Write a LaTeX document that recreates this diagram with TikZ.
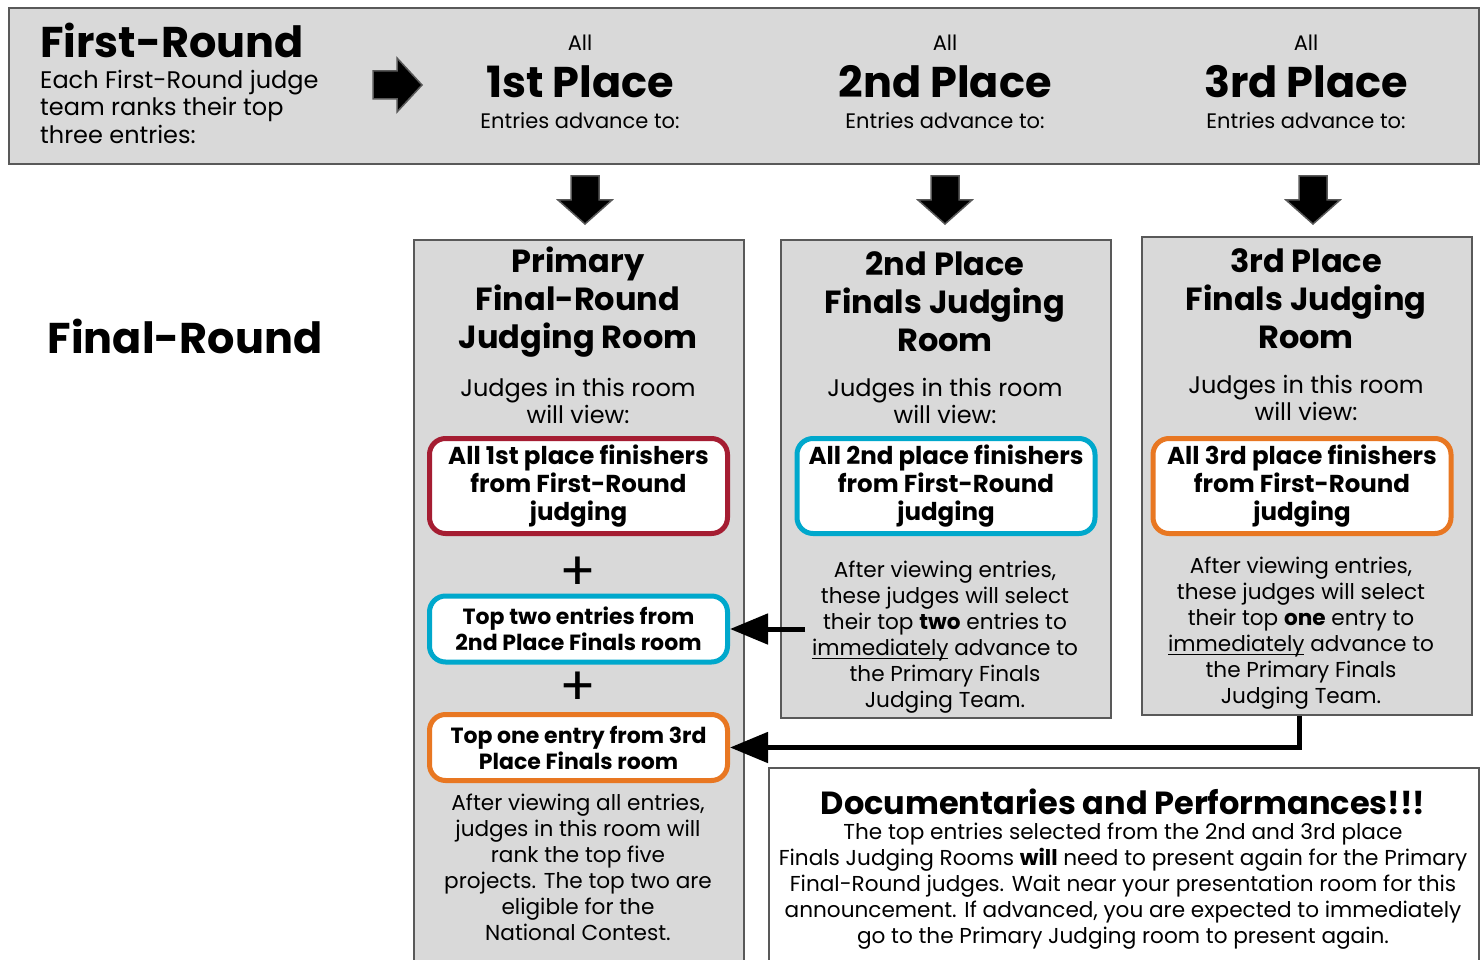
\documentclass[tikz,border=0pt]{standalone}
\usepackage{fontspec}
\setmainfont{Poppins}
\usetikzlibrary{arrows.meta,positioning}

% underline close to the baseline
\newcommand{\uword}[1]{\leavevmode\setbox0\hbox{#1}\rlap{\rule[-4pt]{\wd0}{1.4pt}}\box0\relax}

\definecolor{panelgray}{HTML}{D9D9D9}
\definecolor{edgegray}{HTML}{595959}
\definecolor{firstred}{HTML}{A51D32}
\definecolor{secondcyan}{HTML}{00A8CC}
\definecolor{thirdorange}{HTML}{E87722}

\tikzset{
  panel/.style={draw=edgegray, line width=2pt, fill=panelgray, anchor=north west, inner sep=0pt},
  headline/.style={font=\fontsize{43}{48}\selectfont\bfseries},
  roomtitle/.style={align=center, font=\fontsize{32}{38}\selectfont\bfseries},
  bodytext/.style={align=center, font=\fontsize{21.6}{26}\selectfont},
  viewtext/.style={align=center, font=\fontsize{24}{27}\selectfont},
  smalltext/.style={font=\fontsize{21}{24}\selectfont},
  entrybox/.style={draw=#1, line width=5pt, fill=white, rounded corners=16pt, minimum width=298pt, align=center, inner sep=0pt},
  bigentry/.style={font=\fontsize{24.5}{28}\selectfont\bfseries, minimum height=95pt},
  smallentry/.style={font=\fontsize{22}{26}\selectfont\bfseries, minimum height=66pt},
  plus/.style={font=\fontsize{54}{54}\selectfont},
  blockarrow/.style={fill=black, draw=edgegray, line width=1.5pt},
  conn/.style={line width=5pt, -{Triangle[length=38pt,width=30pt]}},
}

\begin{document}
\begin{tikzpicture}[x=1pt, y=-1pt]
\useasboundingbox (0,0) rectangle (1484,960);

% first round panel
\node[panel, minimum width=1470pt, minimum height=156pt] (firstpanel) at (8,7) {};
\node[headline, anchor=base west, inner sep=0pt] (firsthead) at (40,58) {First-Round};
\node[align=left, anchor=north west, inner sep=0pt, font=\fontsize{24}{27.5}\selectfont] (firstdesc) at (40,70) {Each First-Round judge\\team ranks their top\\three entries:};
\filldraw[blockarrow] (373,71) -- (397,71) -- (397,58) -- (422,85) -- (397,112) -- (397,99) -- (373,99) -- cycle;

\node[smalltext] (allone) at (580,43) {All};
\node[headline] (placeone) at (580,82) {1st Place};
\node[smalltext] (advone) at (580,121) {Entries advance to:};
\node[smalltext] (alltwo) at (945,43) {All};
\node[headline] (placetwo) at (945,82) {2nd Place};
\node[smalltext] (advtwo) at (945,121) {Entries advance to:};
\node[smalltext] (allthree) at (1306,43) {All};
\node[headline] (placethree) at (1306,82) {3rd Place};
\node[smalltext] (advthree) at (1306,121) {Entries advance to:};

% down arrows
\filldraw[blockarrow, shift={(585,176)}] (-14,0) -- (14,0) -- (14,24) -- (27,24) -- (0,48) -- (-27,24) -- (-14,24) -- cycle;
\filldraw[blockarrow, shift={(945,176)}] (-14,0) -- (14,0) -- (14,24) -- (27,24) -- (0,48) -- (-27,24) -- (-14,24) -- cycle;
\filldraw[blockarrow, shift={(1313,176)}] (-14,0) -- (14,0) -- (14,24) -- (27,24) -- (0,48) -- (-27,24) -- (-14,24) -- cycle;

\node[headline] (finalhead) at (185,336) {Final-Round};

% the three rooms
\node[panel, minimum width=330pt, minimum height=740pt] (roomprimary) at (413,239) {};
\node[panel, minimum width=330pt, minimum height=478pt] (roomsecond) at (780,239) {};
\node[panel, minimum width=330pt, minimum height=478pt] (roomthird) at (1141,236) {};

% primary room
\node[roomtitle] (titleprimary) at (578,302) {Primary\\Final-Round\\Judging Room};
\node[viewtext] (viewprimary) at (578,401) {Judges in this room\\will view:};
\node[entrybox=firstred, bigentry] (allfirst) at (578.5,486) {All 1st place finishers\\from First-Round\\judging};
\node[plus] (plusone) at (578,574) {+};
\node[entrybox=secondcyan, smallentry] (toptwo) at (578.5,629) {Top two entries from\\2nd Place Finals room};
\node[plus] (plustwo) at (578,689) {+};
\node[entrybox=thirdorange, smallentry] (topone) at (578.5,747.5) {Top one entry from 3rd\\Place Finals room};
\node[bodytext] (rankprimary) at (578,867) {After viewing all entries,\\judges in this room will\\rank the top five\\projects. The top two are\\eligible for the\\National Contest.};

% second place room
\node[roomtitle] (titlesecond) at (945,302) {2nd Place\\Finals Judging\\Room};
\node[viewtext] (viewsecond) at (945,401) {Judges in this room\\will view:};
\node[entrybox=secondcyan, bigentry] (allsecond) at (946,486) {All 2nd place finishers\\from First-Round\\judging};
\node[bodytext] (selsecond) at (945,637) {After viewing entries,\\these judges will select\\their top \textbf{two} entries to\\\uword{immediately} advance to\\the Primary Finals\\Judging Team.};

% third place room
\node[roomtitle] (titlethird) at (1306,299) {3rd Place\\Finals Judging\\Room};
\node[viewtext] (viewthird) at (1306,398) {Judges in this room\\will view:};
\node[entrybox=thirdorange, bigentry] (allthird) at (1302,486) {All 3rd place finishers\\from First-Round\\judging};
\node[bodytext] (selthird) at (1301,633) {After viewing entries,\\these judges will select\\their top \textbf{one} entry to\\\uword{immediately} advance to\\the Primary Finals\\Judging Team.};

% connectors
\coordinate (fromsecond) at (805,629);
\draw[conn] (fromsecond) -- (toptwo.east);
\draw[conn] ([xshift=-8pt]roomthird.south) |- (topone.east);

% documentaries note
\node[panel, fill=white, minimum width=710pt, minimum height=210pt] (docpanel) at (768,767) {};
\node[font=\fontsize{32}{36}\selectfont\bfseries] (dochead) at (1123,802) {Documentaries and Performances!!!};
\node[bodytext] (docbody) at (1123,886) {The top entries selected from the 2nd and 3rd place\\Finals Judging Rooms \textbf{will} need to present again for the Primary\\Final-Round judges. Wait near your presentation room for this\\announcement. If advanced, you are expected to immediately\\go to the Primary Judging room to present again.};
\end{tikzpicture}
\end{document}
